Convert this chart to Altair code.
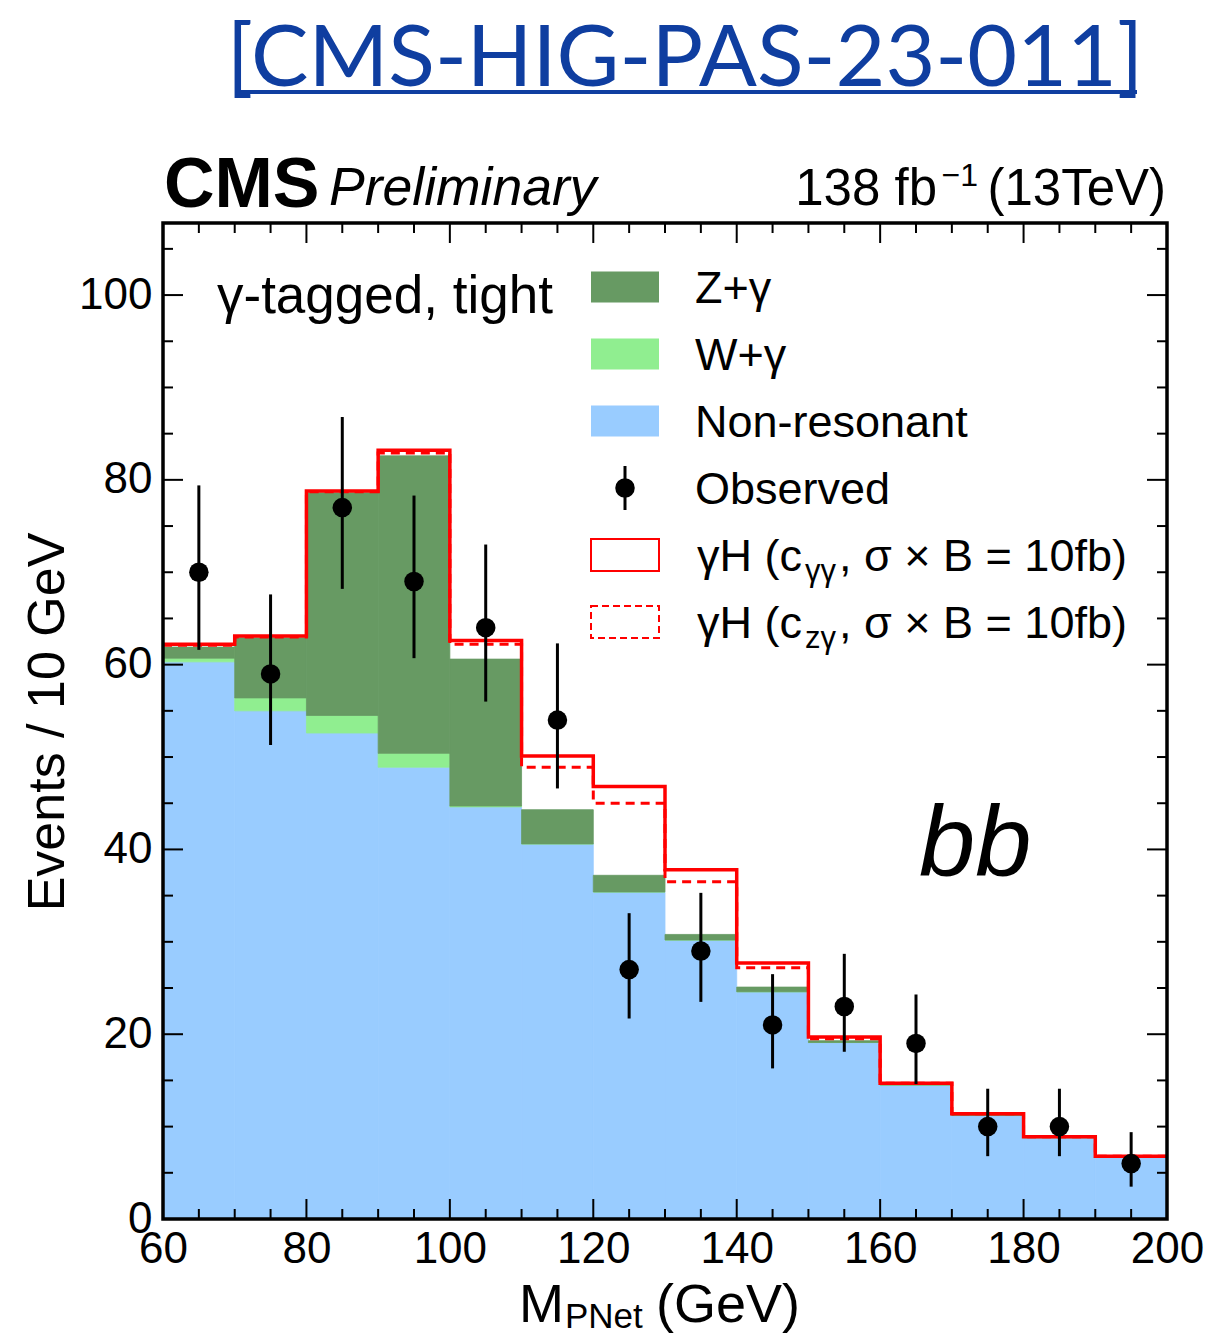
import altair as alt
import pandas as pd

# ---------------- data ----------------
edges = [60, 70, 80, 90, 100, 110, 120, 130, 140, 150, 160, 170, 180, 190, 200]
nonres = [60.3, 55.0, 52.6, 48.9, 44.6, 40.6, 35.4, 30.2, 24.6, 19.1, 14.5, 11.2, 8.8, 6.7]
wgamma = [0.4, 1.4, 1.9, 1.5, 0.1, 0.0, 0.0, 0.0, 0.0, 0.0, 0.0, 0.0, 0.0, 0.0]
zgamma = [1.2, 6.5, 24.1, 32.2, 15.9, 3.7, 1.8, 0.6, 0.5, 0.2, 0.1, 0.1, 0.1, 0.1]
sig_cgg_total = [62.2, 63.1, 78.8, 83.2, 62.6, 50.1, 46.8, 37.8, 27.7, 19.7, 14.7, 11.4, 8.9, 6.8]
sig_czg_total = [62.1, 63.0, 78.7, 82.9, 62.2, 48.9, 45.0, 36.5, 27.2, 19.5, 14.7, 11.4, 8.9, 6.8]
obs = [70, 59, 77, 69, 64, 54, 27, 29, 21, 23, 19, 10, 10, 6]
obs_hi = [79.4, 67.6, 86.8, 78.3, 73.0, 62.3, 33.1, 35.3, 26.5, 28.7, 24.3, 14.1, 14.1, 9.4]
obs_lo = [61.6, 51.3, 68.2, 60.7, 56.0, 46.6, 21.7, 23.5, 16.3, 18.1, 14.6, 6.8, 6.8, 3.5]

x_labels = [60, 80, 100, 120, 140, 160, 180, 200]
y_labels = [0, 20, 40, 60, 80, 100]

legend_fill_labels = ["Z+γ", "W+γ", "Non-resonant"]
legend_fill_colors = ["#679a63", "#90ee90", "#99ccff"]

C_Z, C_W, C_NR = legend_fill_colors
RED = "#ff0000"
FONT = "Liberation Sans"

W, H = 1004, 996
X0, Y0 = 163, 223
YMAX = 107.8

xs = alt.Scale(domain=[60, 200], nice=False, zero=False)
ys = alt.Scale(domain=[0, YMAX], nice=False, zero=True)

XA = alt.Axis(values=x_labels, ticks=False, domain=False, grid=False, labelFont=FONT,
              labelFontSize=44, labelPadding=8, labelColor="black", labelFlush=False,
              labelOverlap=False, title=None)
YA = alt.Axis(values=y_labels, ticks=False, domain=False, grid=False, labelFont=FONT,
              labelFontSize=44, labelPadding=11, labelColor="black", labelOverlap=False,
              title=None)


def X(f):
    return alt.X(f, scale=xs, axis=XA)


def Y(f):
    return alt.Y(f, scale=ys, axis=YA)


lo = edges[:-1]
hi = edges[1:]
rows = []
for i in range(len(lo)):
    b1 = nonres[i]
    b2 = b1 + wgamma[i]
    b3 = b2 + zgamma[i]
    rows.append(dict(lo=lo[i], hi=hi[i], c=(lo[i] + hi[i]) / 2,
                     nr0=0.0, nr1=b1, w0=b1, w1=b2, z0=b2, z1=b3,
                     obs=obs[i], ohi=obs_hi[i], olo=obs_lo[i]))
bins = pd.DataFrame(rows)

step_cgg = pd.DataFrame({"x": edges, "y": sig_cgg_total + [sig_cgg_total[-1]]})
step_czg = pd.DataFrame({"x": edges, "y": sig_czg_total + [sig_czg_total[-1]]})

one = pd.DataFrame({"a": [0]})


def px(ax):
    return ax - X0


def py(ay):
    return ay - Y0


def fill_layer(f0, f1, color):
    return alt.Chart(bins).mark_rect(color=color, stroke=color, strokeWidth=0.8).encode(
        x=X("lo:Q"), x2="hi:Q", y=Y(f"{f0}:Q"), y2=f"{f1}:Q")


nr_layer = fill_layer("nr0", "nr1", C_NR)
w_layer = fill_layer("w0", "w1", C_W)
z_layer = fill_layer("z0", "z1", C_Z)

line_czg = alt.Chart(step_czg).mark_line(color=RED, strokeWidth=3, strokeDash=[9, 6],
                                          interpolate="step-after").encode(
    x=X("x:Q"), y=Y("y:Q"))
line_cgg = alt.Chart(step_cgg).mark_line(color=RED, strokeWidth=3.5,
                                          interpolate="step-after").encode(
    x=X("x:Q"), y=Y("y:Q"))

err = alt.Chart(bins).mark_rule(color="black", strokeWidth=3).encode(
    x=X("c:Q"), y=Y("olo:Q"), y2="ohi:Q")
pts = alt.Chart(bins).mark_point(filled=True, color="black", size=380, opacity=1,
                                 shape="circle").encode(x=X("c:Q"), y=Y("obs:Q"))

# ---------------- ticks (inside, mirrored) ----------------
xt = pd.DataFrame({"v": list(range(65, 200, 5))})
xt["major"] = xt["v"] % 20 == 0
yt = pd.DataFrame({"v": list(range(5, 108, 5))})
yt["major"] = yt["v"] % 20 == 0

tick_layers = []
for major, ln in [(True, 20), (False, 10)]:
    dx = xt[xt["major"] == major]
    dy = yt[yt["major"] == major]
    tick_layers.append(alt.Chart(dx).mark_rule(color="black", strokeWidth=2).encode(
        x=X("v:Q"), y=alt.value(H), y2=alt.value(H - ln)))
    tick_layers.append(alt.Chart(dx).mark_rule(color="black", strokeWidth=2).encode(
        x=X("v:Q"), y=alt.value(0), y2=alt.value(ln)))
    tick_layers.append(alt.Chart(dy).mark_rule(color="black", strokeWidth=2).encode(
        y=Y("v:Q"), x=alt.value(0), x2=alt.value(ln)))
    tick_layers.append(alt.Chart(dy).mark_rule(color="black", strokeWidth=2).encode(
        y=Y("v:Q"), x=alt.value(W), x2=alt.value(W - ln)))

frame = alt.Chart(one).mark_rect(filled=False, stroke="black", strokeWidth=3.5).encode(
    x=alt.value(0), x2=alt.value(W), y=alt.value(0), y2=alt.value(H))


def txt(s, x, y, size, align="left", style="normal", weight="normal", color="black",
        angle=0, font=FONT, baseline="alphabetic"):
    return alt.Chart(one).mark_text(text=s, align=align, baseline=baseline, font=font,
                                    fontSize=size, fontStyle=style, fontWeight=weight,
                                    color=color, angle=angle).encode(
        x=alt.value(x), y=alt.value(y))


texts = []
# header link
BLUE = "#0f3ea0"
texts.append(txt("[CMS-HIG-PAS-23-011]", px(685), py(86), 86, align="center", color=BLUE, font="Lato"))
texts.append(alt.Chart(one).mark_rule(color=BLUE, strokeWidth=4).encode(
    x=alt.value(px(237)), x2=alt.value(px(1137)), y=alt.value(py(92))))
# CMS labels
texts.append(txt("CMS", px(164), py(207), 70, weight="bold"))
texts.append(txt("Preliminary", px(329), py(205), 53.5, style="italic"))
texts.append(txt("(13TeV)", px(1166), py(205), 51, align="right"))
texts.append(txt("−1", px(978), py(186), 32, align="right"))
texts.append(txt("138 fb", px(937), py(205), 51, align="right"))
# category
texts.append(txt("γ-tagged, tight", px(217), py(313), 53))
texts.append(txt("bb", px(919), py(876), 101, style="italic"))
# axis titles
texts.append(txt("M", px(519), py(1322), 54))
texts.append(txt("PNet", px(565), py(1328), 35))
texts.append(txt("(GeV)", px(656), py(1322), 54))
texts.append(txt("Events / 10 GeV", px(64), py(722), 52, align="center", angle=270))

# ---------------- legend ----------------
row_y = [287, 354, 421, 488, 555, 622]
SW_X0, SW_X1 = px(591), px(659)
LAB_X = px(695)
LS = 45
for i, (lab, col) in enumerate(zip(legend_fill_labels, legend_fill_colors)):
    cy = row_y[i]
    texts.append(alt.Chart(one).mark_rect(color=col).encode(
        x=alt.value(SW_X0), x2=alt.value(SW_X1), y=alt.value(py(cy - 15.5)), y2=alt.value(py(cy + 15.5))))
    texts.append(txt(lab, LAB_X, py(cy + 16), LS))
# observed
cy = row_y[3]
texts.append(alt.Chart(one).mark_rule(color="black", strokeWidth=3).encode(
    x=alt.value(px(625)), y=alt.value(py(cy - 22)), y2=alt.value(py(cy + 22))))
texts.append(alt.Chart(one).mark_point(filled=True, color="black", size=380, opacity=1, shape="circle").encode(
    x=alt.value(px(625)), y=alt.value(py(cy))))
texts.append(txt("Observed", LAB_X, py(cy + 16), LS))
# signal boxes
for j, (dash, sub) in enumerate([(None, "γγ"), ([7, 4], "zγ")]):
    cy = row_y[4 + j]
    kw = dict(filled=False, stroke=RED, strokeWidth=2)
    if dash:
        kw["strokeDash"] = dash
    texts.append(alt.Chart(one).mark_rect(**kw).encode(
        x=alt.value(SW_X0), x2=alt.value(SW_X1), y=alt.value(py(cy - 16)), y2=alt.value(py(cy + 16))))
    texts.append(txt("γH (c", px(697), py(cy + 16), LS))
    texts.append(txt(sub, px(805), py(cy + 26), 31))
    texts.append(txt(", σ × B = 10fb)", px(839), py(cy + 16), LS))

chart = alt.layer(
    nr_layer, w_layer, z_layer, line_czg, line_cgg, err, pts, *tick_layers, frame, *texts
).properties(
    width=W, height=H,
    padding={"left": X0, "top": Y0, "right": 1230 - X0 - W, "bottom": 1340 - Y0 - H},
    autosize=alt.AutoSizeParams(type="none"),
    background="white",
).configure_view(stroke=None)

chart.save("out.html", embed_options={"renderer": "svg", "actions": False})
